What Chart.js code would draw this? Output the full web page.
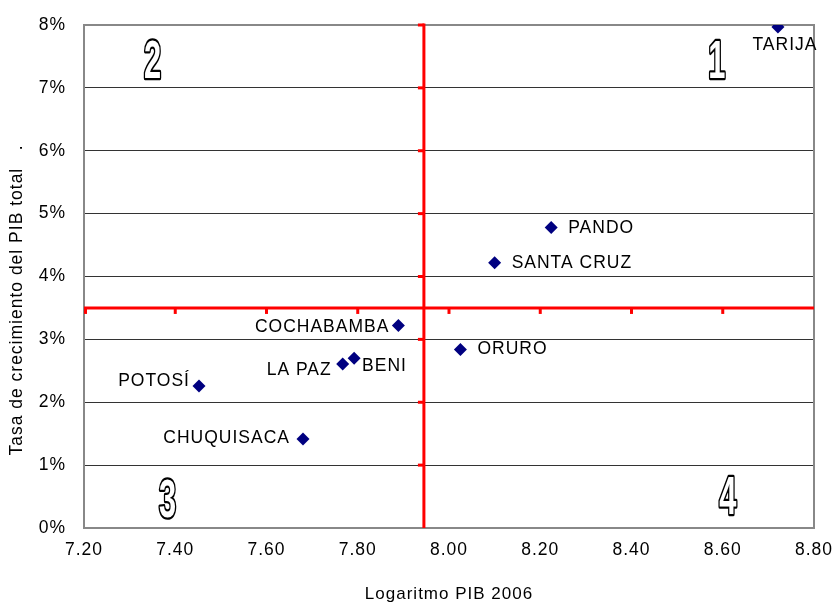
<!DOCTYPE html>
<html>
<head>
<meta charset="utf-8">
<script src="https://cdn.jsdelivr.net/npm/chart.js@4/dist/chart.umd.min.js"></script>
<style>
  html, body { margin: 0; padding: 0; background: #fff; }
  #wrap { width: 836px; height: 605px; position: relative; }
</style>
</head>
<body>
<div id="wrap"><canvas id="c"></canvas></div>
<script>
// ---- Data ----
const departments = ["TARIJA", "PANDO", "SANTA CRUZ", "COCHABAMBA", "ORURO", "BENI", "LA PAZ", "POTOSÍ", "CHUQUISACA"];
const logPIB2006 = [8.721, 8.224, 8.100, 7.889, 8.025, 7.792, 7.767, 7.452, 7.680];
const growthRate = [7.97, 4.78, 4.22, 3.22, 2.84, 2.70, 2.61, 2.26, 1.415];
const xTicks = [7.20, 7.40, 7.60, 7.80, 8.00, 8.20, 8.40, 8.60, 8.80];
const yTicks = [0, 1, 2, 3, 4, 5, 6, 7, 8];
const dividerX = 7.945;   // red vertical divider
const dividerY = 3.5;     // red horizontal divider
const quadrantLabels = ["1", "2", "3", "4"];
const quadrantX = [8.587, 7.350, 7.383, 8.611];
const quadrantY = [7.40, 7.40, 0.41, 0.46];

// label placement (style only): [dx, dy, align]
const labelPlacement = {
  "TARIJA": [7, 18, "center"],
  "PANDO": [17, 1, "left"],
  "SANTA CRUZ": [17, 1, "left"],
  "COCHABAMBA": [-9, 2, "right"],
  "ORURO": [17, 0, "left"],
  "BENI": [8, 8, "left"],
  "LA PAZ": [-11, 6, "right"],
  "POTOSÍ": [-9, -5, "right"],
  "CHUQUISACA": [-13, -1, "right"]
};

const FONT = "'Liberation Sans', Arial, sans-serif";

const points = logPIB2006.map((x, i) => ({ x: x, y: growthRate[i] }));

const decorPlugin = {
  id: 'decor',
  beforeDraw(chart) {
    chart.ctx.letterSpacing = '1px';
  },
  beforeDatasetsDraw(chart) {
    const { ctx, chartArea: a, scales: { x, y } } = chart;
    ctx.save();
    // plot frame
    ctx.strokeStyle = '#888';
    ctx.lineWidth = 2;
    ctx.strokeRect(a.left, a.top, a.right - a.left, a.bottom - a.top);

    // quadrant numbers (outlined, condensed)
    ctx.letterSpacing = '0px';
    ctx.font = "bold 54px " + FONT;
    ctx.textAlign = 'center';
    ctx.textBaseline = 'middle';
    quadrantLabels.forEach((t, i) => {
      const px = x.getPixelForValue(quadrantX[i]);
      const py = y.getPixelForValue(quadrantY[i]);
      ctx.save();
      ctx.translate(px, py);
      ctx.scale(0.57, 1);
      ctx.lineJoin = 'round';
      ctx.strokeStyle = '#000';
      ctx.lineWidth = 4.5;
      ctx.strokeText(t, 0, 0);
      ctx.fillStyle = '#fff';
      ctx.fillText(t, 0, 0);
      ctx.restore();
    });

    // red divider lines
    const vx = x.getPixelForValue(dividerX);
    const hy = y.getPixelForValue(dividerY);
    ctx.strokeStyle = '#ff0000';
    ctx.lineWidth = 3;
    ctx.lineCap = 'butt';
    ctx.beginPath();
    ctx.moveTo(a.left, hy);
    ctx.lineTo(a.right, hy);
    ctx.stroke();
    ctx.beginPath();
    ctx.moveTo(vx, y.getPixelForValue(8) - 1.5);
    ctx.lineTo(vx, a.bottom);
    ctx.stroke();
    // small ticks on red lines
    xTicks.forEach(v => {
      const px = x.getPixelForValue(v);
      if (px > a.right - 2) return;
      const off = (v === xTicks[0]) ? 1.5 : 0;
      ctx.beginPath();
      ctx.moveTo(px + off, hy);
      ctx.lineTo(px + off, hy + 6);
      ctx.stroke();
    });
    yTicks.forEach(v => {
      if (v === 0) return;
      const py = y.getPixelForValue(v);
      ctx.beginPath();
      ctx.moveTo(vx, py);
      ctx.lineTo(vx - 6, py);
      ctx.stroke();
    });
    ctx.restore();
  },
  afterDatasetsDraw(chart) {
    const { ctx } = chart;
    const meta = chart.getDatasetMeta(0);
    ctx.save();
    ctx.letterSpacing = '1px';
    ctx.font = "17.5px " + FONT;
    ctx.fillStyle = '#000';
    ctx.textBaseline = 'middle';
    meta.data.forEach((el, i) => {
      const name = departments[i];
      const p = labelPlacement[name];
      ctx.textAlign = p[2];
      ctx.fillText(name, el.x + p[0], el.y + p[1]);
    });
    ctx.restore();
  }
};

new Chart(document.getElementById('c'), {
  type: 'scatter',
  data: {
    datasets: [{
      data: points,
      pointStyle: 'rectRot',
      pointRadius: 6.5,
      pointHoverRadius: 6.5,
      backgroundColor: '#000080',
      borderColor: '#000080',
      borderWidth: 0
    }]
  },
  options: {
    responsive: true,
    maintainAspectRatio: false,
    animation: false,
    events: [],
    layout: { padding: { top: 25, right: 22, left: 0, bottom: 0 } },
    plugins: { legend: { display: false }, tooltip: { enabled: false } },
    scales: {
      x: {
        type: 'linear',
        min: 7.2,
        max: 8.8,
        afterBuildTicks: s => { s.ticks = xTicks.map(v => ({ value: v })); },
        afterFit: s => { s.height = 77; s.paddingLeft = 0; s.paddingRight = 0; },
        grid: { display: false, drawTicks: false },
        border: { display: false },
        ticks: {
          padding: 12,
          color: '#000',
          maxRotation: 0,
          font: { family: FONT, size: 17.5 },
          callback: v => Number(v).toFixed(2)
        },
        title: {
          display: true,
          text: 'Logaritmo PIB 2006',
          color: '#000',
          font: { family: FONT, size: 17 },
          padding: { top: 0, bottom: 0 }
        }
      },
      y: {
        type: 'linear',
        min: 0,
        max: 8,
        afterBuildTicks: s => { s.ticks = yTicks.map(v => ({ value: v })); },
        afterFit: s => { s.width = 84; s.paddingTop = 0; s.paddingBottom = 0; },
        grid: { color: '#333', lineWidth: 1, drawTicks: false },
        border: { display: false },
        ticks: {
          padding: 18,
          color: '#000',
          font: { family: FONT, size: 17.5 },
          callback: v => v + '%'
        },
        title: {
          display: true,
          text: 'Tasa de crecimiento del PIB total   .        ',
          color: '#000',
          font: { family: FONT, size: 17.5 },
          padding: { top: 7, bottom: 0 }
        }
      }
    }
  },
  plugins: [decorPlugin]
});
</script>
</body>
</html>
